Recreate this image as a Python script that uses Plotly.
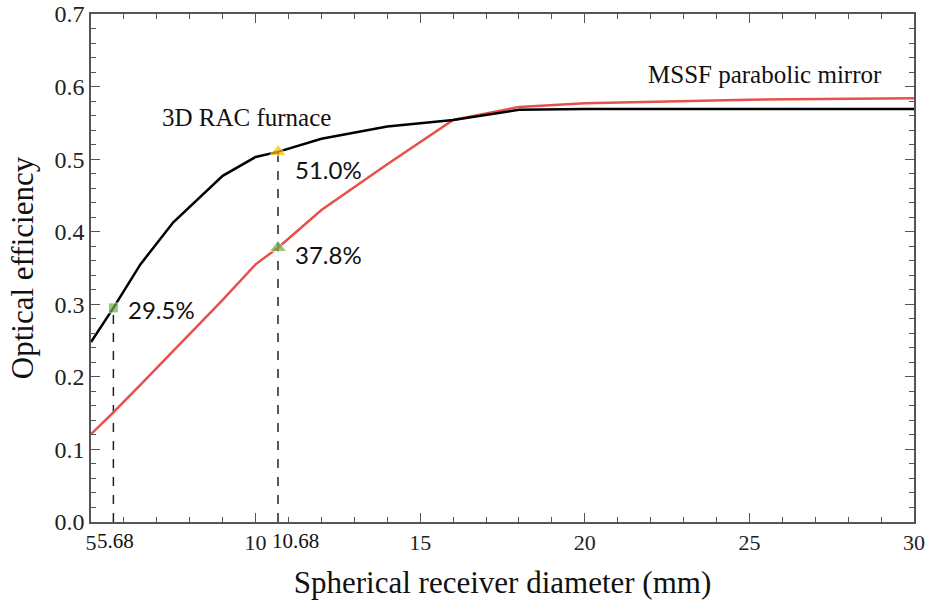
import plotly.graph_objects as go

# Data
rac_x = [5, 5.68, 6.5, 7.5, 9, 10, 10.68, 12, 14, 16, 18, 20, 25, 30]
rac_y = [0.248, 0.295, 0.355, 0.413, 0.477, 0.503, 0.510, 0.528, 0.545, 0.554, 0.568, 0.569, 0.569, 0.569]

mssf_x = [5, 5.68, 6.5, 7.5, 9, 10, 10.68, 12, 14, 16, 18, 20, 25, 30]
mssf_y = [0.121, 0.151, 0.189, 0.236, 0.306, 0.355, 0.378, 0.430, 0.493, 0.554, 0.572, 0.577, 0.582, 0.584]

mark_x = [5.68, 10.68, 10.68]
mark_y = [0.295, 0.510, 0.378]
mark_text = ["29.5%", "51.0%", "37.8%"]

xtick_vals = [5, 10, 15, 20, 25, 30]
extra_xtick_vals = [5.68, 10.68]
extra_xtick_text = ["5.68", "10.68"]
ytick_vals = [0.0, 0.1, 0.2, 0.3, 0.4, 0.5, 0.6, 0.7]

SERIF = "Liberation Serif, Times New Roman, serif"
SANS = "Lato, Open Sans, sans-serif"

fig = go.Figure()

# dashed guide lines
for i in range(2):
    fig.add_trace(go.Scatter(x=[mark_x[i], mark_x[i]], y=[0, mark_y[i]], mode="lines",
                             line=dict(color="#222", width=1.5, dash="dash"), showlegend=False))

fig.add_trace(go.Scatter(x=mssf_x, y=mssf_y, mode="lines",
                         line=dict(color="#E8504A", width=2.5), showlegend=False))
fig.add_trace(go.Scatter(x=rac_x, y=rac_y, mode="lines",
                         line=dict(color="#000000", width=2.5), showlegend=False))

fig.add_trace(go.Scatter(x=mark_x, y=mark_y, mode="markers",
                         marker=dict(symbol=["square", "triangle-up", "triangle-up"],
                                     color=["#70AD47", "#FFC000", "#70AD47"], size=[10, 15, 15]),
                         showlegend=False))

label_shift = [(13, -2), (15, -18), (15, -7)]
for xv, yv, t, (dx, dy) in zip(mark_x, mark_y, mark_text, label_shift):
    fig.add_annotation(x=xv, y=yv, text=t, showarrow=False, xanchor="left", yanchor="middle",
                       xshift=dx, yshift=dy,
                       font=dict(family=SANS, size=24, color="#111"))

# extra tick labels for 5.68 and 10.68
for xv, t, dx in zip(extra_xtick_vals, extra_xtick_text, [-18, -8]):
    fig.add_annotation(x=xv, y=0, yref="y", text=t, showarrow=False, xanchor="left", yanchor="top",
                       xshift=dx, yshift=-5, font=dict(family=SERIF, size=21, color="#111"))

fig.add_annotation(x=9.72, y=0.558, text="3D RAC furnace", showarrow=False, xanchor="center",
                   yanchor="middle", font=dict(family=SERIF, size=25, color="#111"))
fig.add_annotation(x=25.47, y=0.617, text="MSSF parabolic mirror", showarrow=False, xanchor="center",
                   yanchor="middle", font=dict(family=SERIF, size=25, color="#111"))

axis_common = dict(showgrid=False, zeroline=False, showline=True, linecolor="#555", linewidth=1.5,
                   mirror="allticks", ticks="inside", tickcolor="#555", tickwidth=1, automargin=False)

fig.update_xaxes(range=[5, 30], tickmode="array", tickvals=xtick_vals, tickangle=0,
                 ticklen=9, minor=dict(tick0=5, dtick=1, ticks="inside", ticklen=5, tickcolor="#555"),
                 tickfont=dict(family=SERIF, size=22, color="#222"),
                 title=dict(text="Spherical receiver diameter (mm)",
                            font=dict(family=SERIF, size=31, color="#111"), standoff=17),
                 **axis_common)
fig.update_yaxes(range=[0, 0.7], tickmode="array", tickvals=ytick_vals, tickformat=".1f",
                 ticklen=9, minor=dict(tick0=0, dtick=0.02, ticks="inside", ticklen=5, tickcolor="#555"),
                 tickfont=dict(family=SERIF, size=24, color="#222"),
                 title=dict(text="Optical efficiency",
                            font=dict(family=SERIF, size=31, color="#111"), standoff=12),
                 **axis_common)

fig.update_layout(width=928, height=608, margin=dict(l=91, r=14, t=14, b=86),
                  plot_bgcolor="white", paper_bgcolor="white")

fig.write_html("out.html", config={"displayModeBar": False},
               post_script="document.body.style.margin='0';document.body.style.overflow='hidden';")
